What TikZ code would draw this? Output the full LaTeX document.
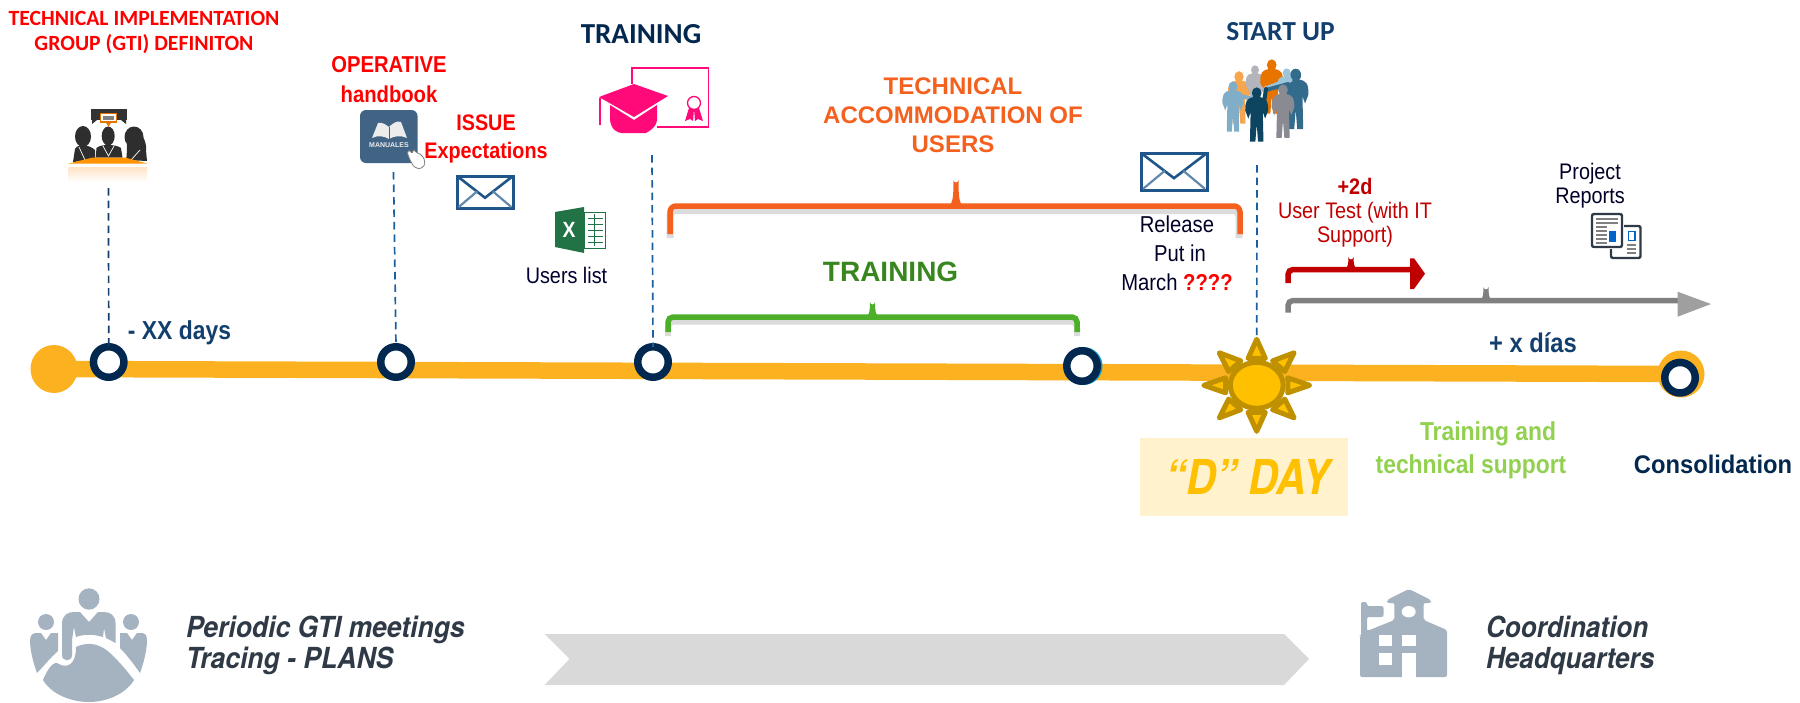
\documentclass[tikz,border=0pt]{standalone}
\usetikzlibrary{shapes.geometric}
\usepackage{fontspec}
\setmainfont{Liberation Sans}
\newfontfamily\fn[FakeStretch=0.88]{Liberation Sans}
\newfontfamily\fm[FakeStretch=0.93]{Liberation Sans}
\newfontfamily\fw{Liberation Sans}
\newfontfamily\fc{Carlito}
\newfontfamily\fdd[FakeStretch=0.86]{TeX Gyre Heros}
\newfontfamily\fhp[FakeStretch=0.915]{TeX Gyre Heros}
\newfontfamily\fhc[FakeStretch=0.90]{TeX Gyre Heros}
\newcommand{\fz}[2]{\fontsize{#1}{#2}\selectfont}
\definecolor{barY}{HTML}{FBB120}
\definecolor{navy}{HTML}{03284F}
\definecolor{tblue}{HTML}{123F6D}
\definecolor{pinkc}{HTML}{FF0A78}
\definecolor{orangeb}{HTML}{F4611F}
\definecolor{greenb}{HTML}{4CAF2A}
\definecolor{greent}{HTML}{38871E}
\definecolor{redd}{HTML}{C00000}
\definecolor{lime}{HTML}{92D050}
\definecolor{sunf}{HTML}{FFC000}
\definecolor{sunb}{HTML}{BF9000}
\definecolor{slate}{HTML}{A5B3C1}
\definecolor{ink}{HTML}{2F3A46}
\definecolor{envb}{HTML}{1F5588}
\definecolor{dashb}{HTML}{1C5FA0}
\definecolor{xlg}{HTML}{217346}
\definecolor{pOrL}{HTML}{F7A650}
\definecolor{pGrL}{HTML}{B4B4BC}
\definecolor{pOr}{HTML}{E87400}
\definecolor{pBlL}{HTML}{9CC5DC}
\definecolor{pTeal}{HTML}{336B8C}
\definecolor{pBl}{HTML}{80AEC9}
\definecolor{pGr}{HTML}{8A8A92}
\definecolor{pNavy}{HTML}{0D4460}
\tikzset{
  lbl/.style={inner sep=0pt,outer sep=0pt,align=center},
  milestone/.style={circle,draw=navy,line width=7.5pt,fill=white,minimum size=30.5pt,inner sep=0pt,outer sep=0pt},
  dashnavy/.style={draw=tblue,line width=1.7pt,dash pattern=on 7.5pt off 5pt},
  dashblue/.style={draw=dashb,line width=1.7pt,dash pattern=on 7.5pt off 5pt},
  shadowline/.style={draw=black,opacity=.14,rounded corners=6pt,line cap=butt},
}
% envelope: x1 y1 width height
\newcommand{\envelope}[4]{%
  \begin{scope}[shift={(#1,#2)},x=#3pt,y=-#4pt]
    \draw[envb,line width=3pt,fill=white] (0,0) rectangle (1,1);
    \draw[envb,line width=2.6pt] (0.03,0.04) -- (0.5,0.68) -- (0.97,0.04);
    \draw[envb!70,line width=2.2pt] (0.03,0.97) -- (0.36,0.48) (0.97,0.97) -- (0.64,0.48);
  \end{scope}}
% standing figure: centre x, head y, scale, colour
\newcommand{\figureman}[4]{%
  \begin{scope}[shift={(#1,#2)},x=#3pt,y=-#3pt]
    \fill[#4] (0,0) ellipse (.36 and .42);
    \fill[#4] (-.22,.30) -- (.22,.30) .. controls (.75,.40) and (.85,.6) .. (.85,1.3)
       -- (.62,1.9) -- (.45,1.4) -- (.5,3.6) -- (.1,3.6) -- (0,2.3) -- (-.1,3.6) -- (-.5,3.6)
       -- (-.45,1.4) -- (-.62,1.9) -- (-.85,1.3) .. controls (-.85,.6) and (-.75,.40) .. (-.22,.30) -- cycle;
  \end{scope}}
\begin{document}
\begin{tikzpicture}[x=1pt,y=-1pt]
\useasboundingbox (0,0) rectangle (1800,702);

% ---- timeline ----
\node[ellipse,fill=barY,minimum width=47pt,minimum height=48pt,inner sep=0pt,outer sep=0pt] (start) at (54,369) {};
\node[circle,fill=barY,minimum size=47pt,inner sep=0pt,outer sep=0pt] (endblob) at (1681,374) {};
\draw[barY,line width=16.5pt] (start.center) -- (endblob.center);

% ---- dashed leaders: anchor points ----
\coordinate (d1) at (108.5,188);
\coordinate (d2) at (393.5,172);
\coordinate (d3) at (652,155);
\coordinate (d5) at (1257,165);
\coordinate (sunc) at (1256.7,385.3);

\fill[dashb!60!cyan] (1083.5,366) circle (19pt);
\node[milestone] (m1) at (108.7,362) {};
\node[milestone] (m2) at (396,362) {};
\node[milestone] (m3) at (653,362) {};
\node[milestone] (m4) at (1082,366) {};
\node[milestone] (m5) at (1680,377.7) {};
\draw[dashnavy] (d1) -- (m1.north);
\draw[dashblue] (d2) -- (m2.north);
\draw[dashblue] (d3) -- (m3.north);
\draw[dashblue] (d5) -- (sunc);

% ---- sun ----
\begin{scope}[shift={(sunc)},xscale=1.15]
  \foreach \a in {0,45,...,315}{
    \begin{scope}[rotate=\a]
      \draw[sunb,fill=sunf,line width=5pt,line join=round] (-7.5,-27) -- (0,-46) -- (7.5,-27) -- cycle;
    \end{scope}}
  \draw[sunb,fill=sunf,line width=5pt] (0,0) circle (23);
\end{scope}

% ---- D day ----
\node[fill=sunf!20,minimum width=208pt,minimum height=78pt,inner sep=0pt,outer sep=0pt] (dbox) at (1244,477) {};
\node[lbl,text=sunf,font=\fdd\bfseries\itshape\fz{48}{50}] (dday) at (1248,477) {“D” DAY};

% ---- top-left title ----
\node[lbl,text=red,font=\fc\bfseries\fz{21.7}{25}] (title1) at (144,32.5) {TECHNICAL IMPLEMENTATION\\GROUP (GTI) DEFINITON};

% meeting icon
\fill[black!80] (90.7,109) rectangle (127,120);
\fill[black!80] (92,120) -- (92,124) -- (97,120) -- cycle (126,120) -- (126,124) -- (121,120) -- cycle;
\draw[orange!90!black,line width=1.4pt,fill=white] (100.5,113.5) rectangle (116.7,122);
\fill[orange!90!black] (105.5,122) -- (108.5,126.7) -- (111.5,122) -- cycle;
\fill[gray] (103,115.8) rectangle (114,119.8);
\begin{scope}[black!82]
  \fill (83,136.5) ellipse (8 and 10.5);
  \fill (73,162) -- (75,149) .. controls (78,143) and (90,145) .. (95,150) -- (95,160) -- cycle;
  \fill (108.2,136) ellipse (6.5 and 9.5);
  \fill (95.7,157.5) -- (96.5,148) .. controls (100,144) and (116,144) .. (121,148) -- (122.5,157.5) -- cycle;
  \fill (134,137) ellipse (9.5 and 10.5);
  \fill (126,160) .. controls (128,150) and (125,142) .. (130,132) .. controls (140,128) and (147,140) .. (146,150) -- (147,161) -- cycle;
\end{scope}
\draw[white,line width=.7pt] (79,147) -- (85,160) (103,146) -- (108.5,156) -- (114,146) (131,160) -- (140,150);
\fill[orange!85!yellow] (93,157.5) -- (125,157.5) -- (147,163.5) -- (68.4,163.5) -- cycle;
\shade[top color=orange!22,bottom color=white] (68.4,167) rectangle (147,182);

% ---- operative handbook ----
\node[lbl,text=red,font=\fn\bfseries\fz{23}{30}] (oper) at (389,79.5) {OPERATIVE\\handbook};
\fill[rounded corners=6pt,fill=envb!65!gray] (360,110) rectangle (417.5,163);
\fill[white!85!gray] (372,138) -- (378,123) .. controls (383,122) and (386,125) .. (389,127) .. controls (392,124) and (397,120) .. (401,122) -- (407,138) .. controls (400,135) and (394,136) .. (389,139) .. controls (384,136) and (378,135) .. (372,138) -- cycle;
\draw[envb!65!gray,line width=.8pt] (389,127) -- (389,139);
\node[lbl,text=white!85!gray,font=\fw\bfseries\fz{7}{8}] (manu) at (389,145) {MANUALES};
\draw[gray,line width=.8pt,fill=white,rounded corners=1.5pt] (407,152) -- (410,150) -- (412,154) -- (413,150) -- (415,150) -- (416,153) -- (419,153) -- (424,158) -- (425,165) -- (420,169) -- (414,167) -- (410,160) -- cycle;

\node[lbl,text=red,font=\fn\bfseries\fz{22.5}{28}] (issue) at (486,138.5) {ISSUE\\Expectations};
\envelope{457}{176}{56}{32}

% excel
\draw[xlg,line width=1pt,fill=white] (584,212) rectangle (605,248);
\foreach \yy in {218,224,230,236,242}{\draw[xlg,line width=1pt] (588,\yy) -- (603,\yy);}
\draw[xlg,line width=1pt] (594,214) -- (594,246);
\fill[xlg] (555,212) -- (584,207) -- (584,253) -- (555,247) -- cycle;
\node[lbl,text=white,font=\fn\bfseries\fz{22}{24}] (xl) at (569,230) {X};
\node[lbl,text=black!80!blue,font=\fn\fz{22.5}{27}] (users) at (566.5,275) {Users list};

% ---- training ----
\node[lbl,text=navy,font=\fc\bfseries\fz{29}{30}] (train1) at (641,34) {TRAINING};
\draw[pinkc,line width=1.6pt] (632,84) -- (632,68) -- (708.6,68) -- (708.6,127) -- (657,127);
\fill[pinkc] (610,105) -- (610,120) .. controls (611,130) and (618,133) .. (622,133) -- (646,133) .. controls (652,130) and (657,125) .. (657,120) -- (657,105) -- (634,120) -- cycle;
\fill[pinkc] (599,97) -- (634,84) -- (668,96) -- (634,117) -- cycle;
\draw[pinkc,line width=2pt] (599.5,98) -- (599.5,125);
\draw[pinkc,line width=1.3pt,fill=white] (694,103) circle (6.5);
\fill[pinkc] (689,108) -- (685,121) -- (690,119) -- (693,121) -- (694,109) -- cycle;
\fill[pinkc] (699,108) -- (703,121) -- (698,119) -- (695,121) -- (694,109) -- cycle;

% ---- technical accommodation ----
\node[lbl,text=orangeb,font=\fw\bfseries\fz{24}{29}] (tech) at (953,115) {TECHNICAL\\ACCOMMODATION OF\\USERS};
\draw[shadowline,line width=7pt] (670,238) -- (670,210.5) -- (1239,210.5) -- (1239,238);
\draw[orangeb,line width=5.5pt,rounded corners=6pt] (670,234) -- (670,206) -- (1240,206) -- (1240,234);
\fill[orangeb] (949,206) .. controls (953,203) and (953.5,195) .. (953.5,180) arc[start angle=180,end angle=0,radius=2.5] .. controls (958.5,195) and (959,203) .. (963,206) -- cycle;

\node[lbl,text=greent,font=\fw\bfseries\fz{28}{30}] (train2) at (890.6,272) {TRAINING};
\draw[shadowline,line width=6pt] (668,336) -- (668,321.5) -- (1077,321.5) -- (1077,336);
\draw[greenb,line width=5.5pt,rounded corners=5pt] (668,332) -- (668,317) -- (1077,317) -- (1077,332);
\fill[greenb] (866,317) .. controls (869.5,315) and (870,310) .. (870,302) arc[start angle=180,end angle=0,radius=2.5] .. controls (875,310) and (875.5,315) .. (879,317) -- cycle;

% ---- release ----
\envelope{1141}{153}{66}{37}
\node[lbl,text=black!85!blue,font=\fn\fz{23}{29}] (rel) at (1177,253) {Release\\\hspace*{6pt}Put in\\March {\color{red}\bfseries ????}};

% ---- start up ----
\node[lbl,text=tblue,font=\fc\bfseries\fz{27.5}{30}] (startup) at (1280.5,32) {START UP};
\figureman{1239}{76.7}{13}{pOrL}
\figureman{1255}{70}{11}{pGrL}
\figureman{1271.7}{65}{13.5}{pOr}
\figureman{1286.7}{73}{11}{pBlL}
\figureman{1295.7}{75}{15}{pTeal}
\draw[pGrL,line width=4pt,line cap=round] (1250,78) -- (1263,90);
\draw[pBlL,line width=5pt,line cap=round] (1290,80) -- (1268,88);
\draw[pTeal,line width=4pt,line cap=round] (1288,84) -- (1266,90);
\figureman{1233}{86.7}{12.5}{pBl}
\draw[pBl,line width=4pt,line cap=round] (1240,96) -- (1258,100);
\figureman{1283}{90}{13.3}{pGr}
\figureman{1256.7}{93}{13.5}{pNavy}
\draw[pNavy,line width=4pt,line cap=round] (1264,102) -- (1266,89);

% ---- after D day ----
\node[lbl,text=redd,font=\fn\fz{22.5}{24}] (utest) at (1355,213) {{\bfseries +2d}\\User Test (with IT\\Support)};
\draw[redd,line width=5.5pt,rounded corners=5pt] (1288,283) -- (1288,269.5) -- (1412,269.5);
\fill[redd] (1410,258.3) -- (1414,258.3) -- (1425,273.7) -- (1414,289) -- (1410,289) -- cycle;
\fill[redd] (1344.5,269.5) .. controls (1348,268) and (1348.5,263) .. (1348.5,257) arc[start angle=180,end angle=0,radius=2.5] .. controls (1353.5,263) and (1354,268) .. (1357.5,269.5) -- cycle;

\draw[gray,line width=5.5pt,rounded corners=5pt] (1288,312.7) -- (1288,300.5) -- (1680,300.5);
\fill[gray!75] (1677.6,291.7) -- (1711,304) -- (1677.6,316.7) -- cycle;
\fill[gray] (1480,300.5) .. controls (1483,299) and (1483.5,294) .. (1483.5,287) arc[start angle=180,end angle=0,radius=2.5] .. controls (1488.5,294) and (1489,299) .. (1492,300.5) -- cycle;

\node[lbl,text=tblue,font=\fn\bfseries\fz{27}{30}] (xdias) at (1533,343) {+ x días};
\node[lbl,text=tblue,font=\fn\bfseries\fz{26}{30}] (xxdays) at (179.5,333) {- XX days};
\node[lbl,text=black!85!blue,font=\fn\fz{22.5}{24}] (proj) at (1590,185.5) {Project\\Reports};

% reports icon
\draw[ink,line width=2.4pt,rounded corners=2pt,fill=white] (1592,214) rectangle (1622,247);
\foreach \yy in {219,223,227,231,235,239,243}{\draw[gray,line width=1.2pt] (1596,\yy) -- (1607,\yy);}
\draw[gray,line width=1.2pt] (1596,219) -- (1618,219) (1596,223) -- (1618,223);
\fill[blue!50!cyan!80!black] (1608.7,231) rectangle (1616.4,241.7);
\draw[ink,line width=2.4pt,rounded corners=2pt] (1624,226) -- (1640.5,226) -- (1640.5,258) -- (1611,258) -- (1611,249);
\draw[blue!50!cyan!80!black,line width=1.3pt] (1628.5,231.5) rectangle (1635,240.5);
\foreach \yy in {245,249,253}{\draw[gray,line width=1.2pt] (1627,\yy) -- (1636,\yy);}

\node[lbl,text=lime,font=\fn\bfseries\fz{26}{33}] (supp) at (1471,450) {\hspace*{34pt}Training and\\technical support};
\node[lbl,text=navy,font=\fm\bfseries\fz{25.5}{28}] (cons) at (1713,464) {Consolidation};

% ---- bottom band ----
\fill[slate] (89,599) ellipse (10.5 and 10.7);
\fill[slate] (46,622) circle (8);
\fill[slate] (131,622) circle (8);
% centre figure
\fill[slate] (62,624) .. controls (62,615) and (68,612) .. (74,612) -- (80,612) -- (89,622) -- (98,612) -- (104,612) .. controls (110,612) and (115.6,615) .. (115.6,624) -- (115.6,643) -- (106,638) -- (104,628) -- (103,637) .. controls (93,634) and (84,634) .. (76,637) -- (74,627) -- (72,640) -- (72,655) .. controls (72,662) and (62,662) .. (62,655) -- cycle;
\fill[slate] (76,647) .. controls (90,640) and (103,646) .. (110,653) .. controls (121,663) and (130,675) .. (134,680) .. controls (125,695) and (105,702) .. (89,702) .. controls (72,702) and (52,695) .. (43,680) .. controls (48,668) and (54,660) .. (59,664) .. controls (66,668) and (76,666) .. (76,647) -- cycle;
% side figures
\fill[slate] (30,640) .. controls (30,634) and (34,633) .. (37,633) -- (41,633) -- (46,640) -- (51,633) -- (58,633) -- (58,651) .. controls (50,658) and (43,667) .. (37,673) .. controls (33,662) and (30,650) .. (30,640) -- cycle;
\fill[slate] (147,640) .. controls (147,634) and (144,633) .. (141,633) -- (137,633) -- (132,640) -- (127,633) -- (120,633) -- (120,648) .. controls (128,656) and (135,666) .. (140,673) .. controls (144,662) and (147,650) .. (147,640) -- cycle;
\node[lbl,text=ink,font=\fhp\bfseries\itshape\fz{29}{31},align=left,anchor=west] (peri) at (186,645.5) {Periodic GTI meetings\\Tracing - PLANS};
\fill[gray!30] (544.6,634) -- (1284,634) -- (1309,659) -- (1284,685) -- (544.6,685) -- (569.5,659) -- cycle;
% building
\fill[slate,rounded corners=2pt] (1360,677) -- (1360,636) -- (1361,636) -- (1361,602) -- (1367,602) -- (1367,606) -- (1383.5,606) -- (1383.5,617) -- (1367,617) -- (1367,631) -- (1394.4,620) -- (1394.4,603) -- (1387,603) -- (1387,600) -- (1408.7,589) -- (1431,600) -- (1431,603) -- (1423.6,603) -- (1423.6,620) -- (1447,630) -- (1447,677) -- cycle;
\fill[white] (1408.7,611.7) ellipse (7 and 5.7);
\fill[white] (1378.5,635) rectangle (1392,646);
\fill[white] (1402,635) rectangle (1416,646);
\fill[white] (1378.5,653) rectangle (1392,664.7);
\fill[white] (1402,653) rectangle (1416,677.5);
\node[lbl,text=ink,font=\fhc\bfseries\itshape\fz{29}{31},align=left,anchor=west] (coord) at (1486,645.5) {Coordination\\Headquarters};
\end{tikzpicture}
\end{document}
